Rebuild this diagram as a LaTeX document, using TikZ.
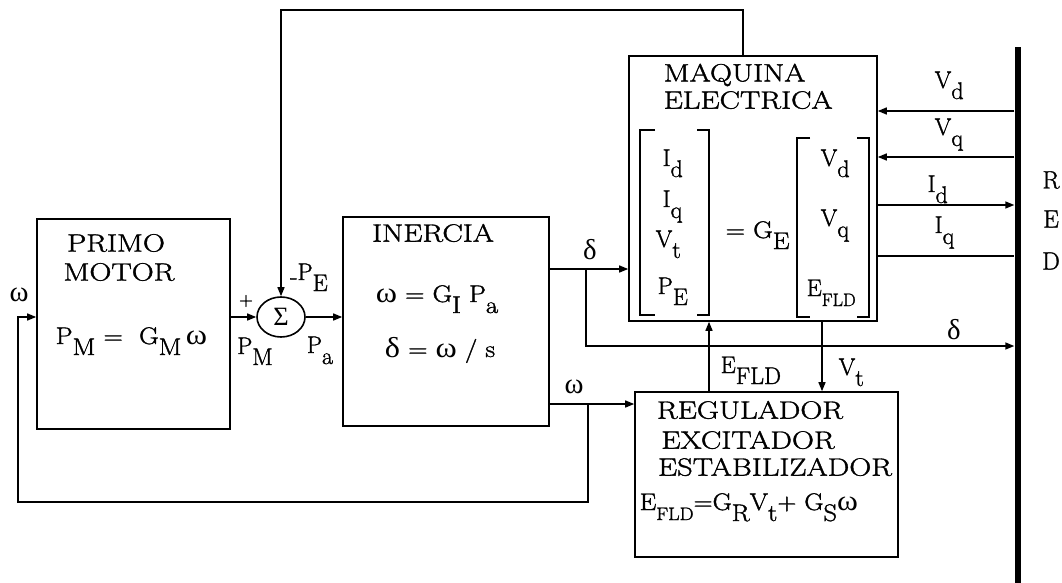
\documentclass[tikz,border=0pt]{standalone}
\usepackage{fontspec}
\usepackage{graphicx}
\setmainfont{Latin Modern Roman}[FakeBold=1.3]
\newfontfamily\gk{Liberation Serif}[Scale=1.2]
\usetikzlibrary{arrows.meta,shapes.geometric}
\newcommand{\lo}[1]{\raisebox{-11pt}{#1}}
\newcommand{\los}[1]{\raisebox{-10pt}{\fontsize{18}{18}\selectfont #1}}
\newcommand{\wide}[1]{\scalebox{1.22}[1]{#1}}
\newcommand{\wid}[1]{\scalebox{1.12}[1]{#1}}
\newcommand{\om}{{\gk ω}}
\newcommand{\de}{{\gk δ}}
\begin{document}
\begin{tikzpicture}[x=1pt,y=-1pt, line width=1.4pt,
  blk/.style={draw, inner sep=0pt, line width=1.6pt},
  arr/.style={-{Triangle[length=9pt,width=7pt]}},
  brk/.style={line width=1.2pt},
  tit/.style={inner sep=0pt, font=\fontsize{25}{28}\selectfont},
  lab/.style={inner sep=0pt, font=\fontsize{24}{27}\selectfont},
]
\useasboundingbox (0,0) rectangle (1062,583);

% blocks
\node[blk, minimum width=48pt, minimum height=40pt, ellipse, font=\fontsize{22}{24}\selectfont] (sum) at (281,317) {\gk Σ};
\node[blk, minimum width=193pt, minimum height=210pt] (pm) at (133.5,324) {};
\node[blk, minimum width=206pt, minimum height=209pt] (in) at (446,321.5) {};
\node[blk, minimum width=248pt, minimum height=265pt] (me) at (753,188.5) {};
\node[blk, minimum width=263pt, minimum height=165pt] (reg) at (766.5,474.5) {};
\node[fill, inner sep=0pt, minimum width=6pt, minimum height=536pt] (bus) at (1018,315) {};

% block texts
\node[tit] (t1) at (116,243) {\wide{PRIMO}};
\node[tit] (t2) at (119,272) {\wide{MOTOR}};
\node[lab, anchor=base west] (e1) at (55,344) {\wid{P\lo{M} = \ G\lo{M}\,\om}};
\node[tit] (t3) at (433,233) {\wide{INERCIA}};
\node[lab, anchor=base] (e2) at (437,302) {\wid{\om{} = G\lo{I} P\lo{a}}};
\node[lab, anchor=base] (e3) at (440,357) {\wid{\de{} = \om{} / s}};
\node[tit, anchor=west] (t4) at (663,75) {\wide{MAQUINA}};
\node[tit, anchor=west] (t5) at (663,100) {\wide{ELECTRICA}};
\node[lab, anchor=base west] (m1) at (662,166) {I\lo{d}};
\node[lab, anchor=base west] (m2) at (662,207) {I\lo{q}};
\node[lab, anchor=base west] (m3) at (655,247) {V\lo{t}};
\node[lab, anchor=base west] (m4) at (657,294) {P\lo{E}};
\node[lab, anchor=base west] (m5) at (725,238) {\wid{= G\lo{E}}};
\node[lab, anchor=base west] (m6) at (820,166) {V\lo{d}};
\node[lab, anchor=base west] (m7) at (820,226) {V\lo{q}};
\node[lab, anchor=base west] (m8) at (806,296) {E\los{FLD}};
\draw[brk] (655,130) -- (640,130) -- (640,315) -- (655,315);
\draw[brk] (697,130) -- (709,130) -- (709,315) -- (697,315);
\draw[brk] (810,138) -- (797,138) -- (797,317) -- (810,317);
\draw[brk] (857,138) -- (869,138) -- (869,317) -- (857,317);
\node[tit] (t6) at (750,410) {\wide{REGULADOR}};
\node[tit] (t7) at (748,440) {\wide{EXCITADOR}};
\node[tit] (t8) at (775,467) {\wide{ESTABILIZADOR}};
\node[lab, anchor=base west] (e4) at (639,510) {\scalebox{1.1}[1]{E\los{FLD}=G\lo{R}V\lo{t}+ G\lo{S}\om}};

% connectors
\coordinate (topR) at (743,10);
\draw[arr] (topR |- me.north) -- (topR) -| (sum.north);
\draw[arr] (pm.east |- sum) -- (sum.west);
\draw[arr] (sum.east) -- (in.west |- sum);
\coordinate (djn) at (586,269);
\coordinate (dlo) at (586,346);
\draw[arr] (in.east |- djn) -- (me.west |- djn);
\draw[arr] (djn) -- (dlo) -- (bus.west |- dlo);
\coordinate (wjn) at (588,404);
\coordinate (fbl) at (18,502);
\draw[arr] (in.east |- wjn) -- (reg.west |- wjn);
\draw[arr] (wjn) |- (fbl) |- (pm.west |- sum);
\coordinate (efx) at (709,0);
\coordinate (vtx) at (822,0);
\draw[arr] (reg.north -| efx) -- (me.south -| efx);
\draw[arr] (me.south -| vtx) -- (reg.north -| vtx);
\coordinate (yvd) at (0,111);
\coordinate (yvq) at (0,157);
\coordinate (yid) at (0,205);
\coordinate (yiq) at (0,256);
\draw[arr] (bus.west |- yvd) -- (me.east |- yvd);
\draw[arr] (bus.west |- yvq) -- (me.east |- yvq);
\draw[arr] (me.east |- yid) -- (bus.west |- yid);
\draw (me.east |- yiq) -- (bus.west |- yiq);

% connector labels
\node[lab] (lw) at (19,295) {\om};
\node[lab, font=\fontsize{19}{20}\selectfont] (lplus) at (246,301) {+};
\node[lab, anchor=base] (lpm) at (255,354) {P\lo{M}};
\node[lab, anchor=base] (lpe) at (309,280) {\raisebox{-4pt}{-}P\lo{E}};
\node[lab, anchor=base] (lpa) at (320,353) {P\lo{a}};
\node[lab] (ld1) at (590,250) {\de};
\node[lab] (lw2) at (574,387) {\om};
\node[lab, anchor=base west] (lefd) at (720,373) {E\lo{FLD}};
\node[lab, anchor=base west] (lvt) at (838,375) {V\lo{t}};
\node[lab, anchor=base west] (lvd) at (934,88) {V\lo{d}};
\node[lab, anchor=base west] (lvq) at (934,135) {V\lo{q}};
\node[lab, anchor=base west] (lid) at (927,192) {I\lo{d}};
\node[lab, anchor=base west] (liq) at (934,233) {I\lo{q}};
\node[lab] (ld2) at (954,330) {\de};
\node[lab, font=\fontsize{25}{27}\selectfont] (r1) at (1051,180) {R};
\node[lab, font=\fontsize{25}{27}\selectfont] (r2) at (1051,219) {E};
\node[lab, font=\fontsize{25}{27}\selectfont] (r3) at (1051,261) {D};
\end{tikzpicture}
\end{document}
